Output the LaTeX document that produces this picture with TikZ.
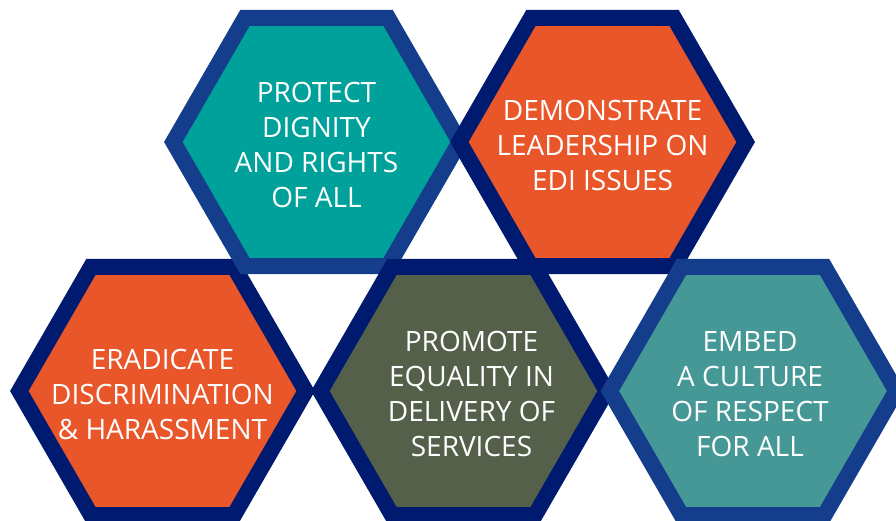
\documentclass[tikz,border=0pt]{standalone}
\usepackage{fontspec}
\setmainfont{Open Sans}
\usepackage{tikz}
\usetikzlibrary{shapes.geometric}
\definecolor{edgeblue}{HTML}{143E8C}
\definecolor{edgenavy}{HTML}{001A70}
\definecolor{tealA}{HTML}{00A19B}
\definecolor{tealB}{HTML}{459896}
\definecolor{redorange}{HTML}{E8562A}
\definecolor{olive}{HTML}{55604A}

\begin{document}
\begin{tikzpicture}[x=1pt,y=-1pt,
  hexa/.style={regular polygon, regular polygon sides=6, minimum size=286.4pt,
    inner sep=0pt, line width=16pt},
  hextext/.style={text=white, align=center, inner sep=0pt, yshift=-3pt,
    font=\fontsize{28}{35}\selectfont}]
\useasboundingbox (0,0) rectangle (896,520);
% bottom left
\node[hexa, draw=edgenavy, fill=redorange,
  label={[hextext]center:ERADICATE\\DISCRIMINATION\\\& HARASSMENT}] (eradicate) at (162.5,391) {};
% top left
\node[hexa, draw=edgeblue, fill=tealA,
  label={[hextext]center:PROTECT\\DIGNITY\\AND RIGHTS\\OF ALL}] (protect) at (316.5,142) {};
% bottom middle
\node[hexa, draw=edgenavy, fill=olive,
  label={[hextext, xshift=8pt]center:PROMOTE\\EQUALITY IN\\DELIVERY OF\\SERVICES}] (promote) at (463.5,391) {};
% top right
\node[hexa, draw=edgenavy, fill=redorange,
  label={[hextext]center:DEMONSTRATE\\LEADERSHIP ON\\EDI ISSUES}] (demonstrate) at (602.5,142) {};
% bottom right
\node[hexa, draw=edgeblue, fill=tealB,
  label={[hextext, xshift=-3pt]center:EMBED\\A CULTURE\\OF RESPECT\\FOR ALL}] (embed) at (753,391) {};
\end{tikzpicture}
\end{document}
